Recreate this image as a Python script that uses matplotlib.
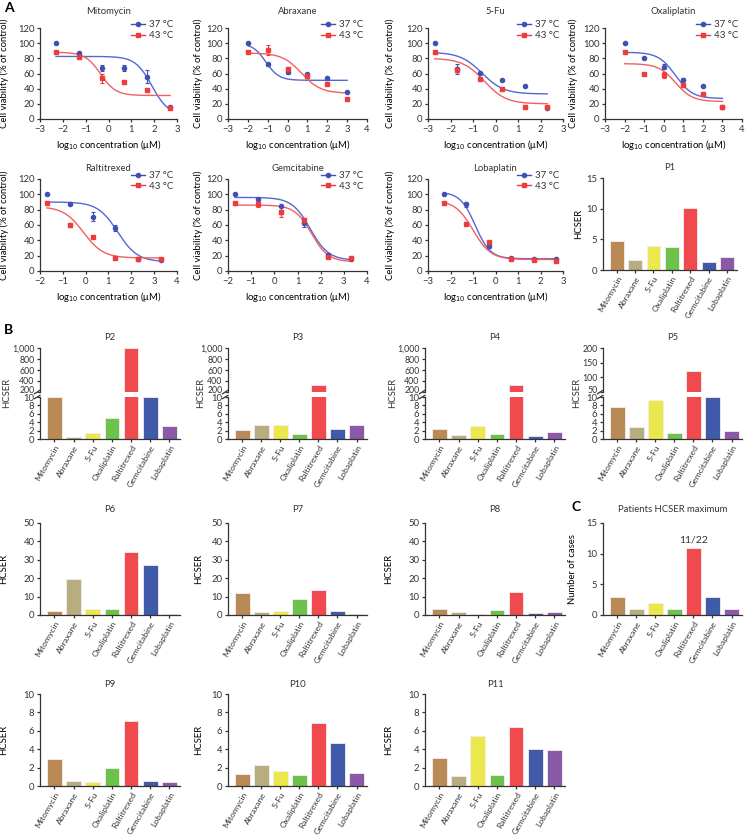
import numpy as np
import matplotlib.pyplot as plt
import matplotlib.transforms as mtransforms
from matplotlib.ticker import FuncFormatter

plt.rcParams['font.family'] = ['Lato', 'DejaVu Sans']
plt.rcParams['font.size'] = 6.5
plt.rcParams['axes.linewidth'] = 0.9
plt.rcParams['axes.edgecolor'] = '#333333'
plt.rcParams['xtick.color'] = '#333333'
plt.rcParams['ytick.color'] = '#333333'
plt.rcParams['text.color'] = '#333333'
plt.rcParams['xtick.major.size'] = 2.5
plt.rcParams['ytick.major.size'] = 2.5
plt.rcParams['xtick.major.pad'] = 1.5
plt.rcParams['ytick.major.pad'] = 1.5

# ---- data ----
drugs = ["Mitomycin", "Abraxane", "5-Fu", "Oxaliplatin", "Raltitrexed", "Gemcitabine", "Lobaplatin"]
drug_colors = ["#b98a55", "#b8ad7e", "#ebe84e", "#6cc24a", "#f04a4e", "#3f5aa8", "#8a5aa8"]

log_dose = {
    "Mitomycin": [-2.3, -1.3, -0.3, 0.7, 1.7, 2.7],
    "Abraxane": [-2, -1, 0, 1, 2, 3],
    "5-Fu": [-2.7, -1.7, -0.7, 0.3, 1.3, 2.3],
    "Oxaliplatin": [-2, -1, 0, 1, 2, 3],
    "Raltitrexed": [-1.7, -0.7, 0.3, 1.3, 2.3, 3.3],
    "Gemcitabine": [-1.7, -0.7, 0.3, 1.3, 2.3, 3.3],
    "Lobaplatin": [-2.3, -1.3, -0.3, 0.7, 1.7, 2.7],
}
via_37 = {
    "Mitomycin": [100, 87, 67, 67, 56, 16],
    "Abraxane": [100, 72, 62, 59, 54, 36],
    "5-Fu": [100, 66, 61, 51, 43, 15],
    "Oxaliplatin": [100, 80, 69, 52, 43, 16],
    "Raltitrexed": [100, 87, 71, 56, 16, 15],
    "Gemcitabine": [100, 94, 85, 62, 21, 16],
    "Lobaplatin": [100, 87, 33, 17, 16, 16],
}
err_37 = {
    "Mitomycin": [0, 1, 4, 4, 9, 1],
    "Abraxane": [0, 2, 3, 1, 2, 1],
    "5-Fu": [0, 7, 1, 1, 1, 1],
    "Oxaliplatin": [0, 1, 3, 2, 1, 1],
    "Raltitrexed": [0, 1, 6, 4, 1, 1],
    "Gemcitabine": [0, 1, 1, 5, 3, 1],
    "Lobaplatin": [1, 3, 3, 1, 1, 1],
}
via_43 = {
    "Mitomycin": [89, 82, 54, 49, 38, 15],
    "Abraxane": [89, 91, 66, 57, 46, 26],
    "5-Fu": [89, 65, 53, 40, 16, 16],
    "Oxaliplatin": [89, 60, 58, 45, 33, 16],
    "Raltitrexed": [89, 60, 45, 17, 16, 16],
    "Gemcitabine": [89, 87, 77, 66, 18, 17],
    "Lobaplatin": [89, 61, 38, 16, 15, 13],
}
err_43 = {
    "Mitomycin": [1, 1, 6, 3, 1, 1],
    "Abraxane": [1, 6, 3, 1, 1, 1],
    "5-Fu": [1, 3, 1, 1, 1, 1],
    "Oxaliplatin": [1, 1, 4, 1, 1, 1],
    "Raltitrexed": [1, 2, 1, 1, 1, 1],
    "Gemcitabine": [1, 4, 6, 3, 1, 1],
    "Lobaplatin": [1, 1, 1, 1, 1, 1],
}
# fitted 4-parameter logistic: top, bottom, logIC50, hill slope
fit_37 = {
    "Mitomycin": (82.5, 5, 1.9, 1.2),
    "Abraxane": (100, 51, -1.1, 1.3),
    "5-Fu": (88, 33, -0.6, 0.9),
    "Oxaliplatin": (88, 27, 0.6, 1.0),
    "Raltitrexed": (90, 12, 1.4, 1.0),
    "Gemcitabine": (96, 14, 1.55, 1.1),
    "Lobaplatin": (103, 16, -0.9, 1.3),
}
fit_43 = {
    "Mitomycin": (88, 31, -0.35, 1.3),
    "Abraxane": (87, 34, 0.7, 0.9),
    "5-Fu": (80, 20, -0.5, 0.9),
    "Oxaliplatin": (73, 23, 0.6, 1.0),
    "Raltitrexed": (84, 17, -0.1, 1.0),
    "Gemcitabine": (86, 12, 1.6, 1.2),
    "Lobaplatin": (92, 15, -1.0, 1.1),
}
x_limits = {
    "Mitomycin": (-3, 3), "Abraxane": (-3, 4), "5-Fu": (-3, 3), "Oxaliplatin": (-3, 4),
    "Raltitrexed": (-2, 4), "Gemcitabine": (-2, 4), "Lobaplatin": (-3, 3),
}

hcser = {
    "P1": [4.8, 1.7, 3.9, 3.8, 10.1, 1.3, 2.1],
    "P2": [9.9, 0.5, 1.5, 4.9, 1000, 10.1, 3.1],
    "P3": [2.2, 3.3, 3.3, 1.3, 320, 2.5, 3.3],
    "P4": [2.3, 0.9, 3.2, 1.2, 320, 0.6, 1.6],
    "P5": [7.7, 2.8, 9.2, 1.4, 122, 10.1, 1.8],
    "P6": [2.2, 19.5, 3.0, 3.5, 34, 27, 0.5],
    "P7": [12, 1.7, 2.3, 8.6, 13.8, 2.1, 0.8],
    "P8": [3.2, 1.4, 0.8, 2.6, 12.7, 1.3, 1.7],
    "P9": [2.9, 0.55, 0.45, 1.95, 7.05, 0.55, 0.45],
    "P10": [1.35, 2.25, 1.65, 1.15, 6.85, 4.7, 1.45],
    "P11": [3.05, 1.05, 5.45, 1.15, 6.45, 4.0, 3.9],
}
max_cases = [3, 1, 2, 1, 11, 3, 1]

W, H = 747, 836
fig = plt.figure(figsize=(W / 100, H / 100), dpi=100)


def px_axes(x0, x1, y0, y1):
    return fig.add_axes([x0 / W, 1 - y1 / H, (x1 - x0) / W, (y1 - y0) / H])


def style(ax):
    ax.spines['top'].set_visible(False)
    ax.spines['right'].set_visible(False)
    ax.tick_params(labelsize=6.8, width=0.9)


def logistic(x, p):
    top, bottom, ic50, hill = p
    return bottom + (top - bottom) / (1 + 10 ** (hill * (x - ic50)))


def curve_panel(drug, x0, x1, y0, y1, pad, label_x):
    ax = px_axes(x0, x1, y0, y1)
    style(ax)
    xs = log_dose[drug]
    xx = np.linspace(xs[0], xs[-1], 200)
    ax.plot(xx, logistic(xx, fit_37[drug]), color="#5468d4", lw=1.0)
    ax.plot(xx, logistic(xx, fit_43[drug]), color="#f26060", lw=1.0)
    ax.errorbar(xs, via_37[drug], yerr=err_37[drug], fmt='o', ms=3, color="#3f51b5",
                elinewidth=0.8, capsize=1.5, capthick=0.8)
    ax.errorbar(xs, via_43[drug], yerr=err_43[drug], fmt='s', ms=3, color="#ee3b3b",
                elinewidth=0.8, capsize=1.5, capthick=0.8)
    h37, = ax.plot([], [], '-o', color="#3f51b5", ms=3, lw=1.0)
    h43, = ax.plot([], [], '-s', color="#ee3b3b", ms=3, lw=1.0)
    ax.legend([h37, h43], ["37 °C", "43 °C"], loc='upper right', bbox_to_anchor=(1.0, 1.13),
              frameon=False, fontsize=7, handlelength=1.4, handletextpad=0.4,
              labelspacing=0.2, borderaxespad=0)
    ax.set_xlim(*x_limits[drug])
    ax.set_xticks(range(x_limits[drug][0], x_limits[drug][1] + 1))
    ax.set_ylim(0, 120)
    ax.set_yticks(range(0, 121, 20))
    ax.set_title(drug, fontsize=6.8, pad=pad)
    ax.set_xlabel("log$_{10}$ concentration (μM)", fontsize=6.8, labelpad=3)
    ax.set_ylabel("Cell viability (% of control)", fontsize=6.8)
    ax.yaxis.set_label_coords((label_x - x0) / (x1 - x0), 0.5)
    return ax


def bars(ax, values):
    pos = np.arange(len(drugs))
    ax.bar(pos, values, width=0.76, color=drug_colors, edgecolor='#f4eeee', linewidth=0.6)
    ax.set_xlim(-0.75, 6.55)


def drug_ticks(ax):
    ax.set_xticks(np.arange(len(drugs)))
    ax.set_xticklabels(drugs, rotation=60, ha='right', rotation_mode='anchor', fontsize=6.1)
    ax.tick_params(axis='x', pad=1)


def bar_panel(name, values, x0, x1, y0, y1, ymax, step, pad, label_x, ylabel="HCSER"):
    ax = px_axes(x0, x1, y0, y1)
    style(ax)
    bars(ax, values)
    ax.set_ylim(0, ymax)
    ax.set_yticks(np.arange(0, ymax + 0.1, step))
    drug_ticks(ax)
    ax.set_title(name, fontsize=6.8, pad=pad)
    ax.set_ylabel(ylabel, fontsize=6.8)
    ax.yaxis.set_label_coords((label_x - x0) / (x1 - x0), 0.5)
    return ax


def broken_panel(name, values, x0, x1, upper, up_step, label_x):
    top_y, mid1, mid2, bot_y = 348, 392, 397, 439
    ax_u = px_axes(x0, x1, top_y, mid1)
    ax_l = px_axes(x0, x1, mid2, bot_y)
    for ax in (ax_u, ax_l):
        style(ax)
        bars(ax, values)
    ax_u.spines['bottom'].set_visible(False)
    ax_u.set_xticks([])
    ax_u.set_ylim(*upper)
    ax_u.set_yticks(np.arange(upper[0], upper[1] + 1, up_step))
    ax_u.yaxis.set_major_formatter(FuncFormatter(lambda v, p: f"{int(v):,}"))
    ax_u.tick_params(axis='y', labelsize=6.3)
    ax_l.set_ylim(0, 10)
    ax_l.set_yticks(range(0, 11, 2))
    drug_ticks(ax_l)
    # nudge the lowest upper label up a little so it clears the "10"
    fig.canvas.draw()
    lift = mtransforms.ScaledTranslation(0, 2.5 / 100, fig.dpi_scale_trans)
    lab = ax_u.get_yticklabels()[0]
    lab.set_transform(lab.get_transform() + lift)
    ax_u.set_title(name, fontsize=6.8, pad=6)
    # break marks on the left spine
    kw = dict(color='#333333', lw=0.9, clip_on=False)
    ax_u.plot([-0.04, 0.0], [-0.04, 0.04], transform=ax_u.transAxes, **kw)
    ax_l.plot([-0.04, 0.0], [0.96, 1.04], transform=ax_l.transAxes, **kw)
    fig.text(label_x / W, 1 - 393 / H, "HCSER", rotation=90, ha='center', va='center', fontsize=6.8)


# ---- panel A ----
row1 = (28, 119)
row2 = (179, 271)
curve_panel("Mitomycin", 40, 177, *row1, pad=10, label_x=9)
curve_panel("Abraxane", 228, 367, *row1, pad=10, label_x=203)
curve_panel("5-Fu", 428, 563, *row1, pad=10, label_x=395)
curve_panel("Oxaliplatin", 605, 742, *row1, pad=10, label_x=578)
curve_panel("Raltitrexed", 40, 177, *row2, pad=6, label_x=9)
curve_panel("Gemcitabine", 228, 367, *row2, pad=6, label_x=203)
curve_panel("Lobaplatin", 428, 563, *row2, pad=6, label_x=395)
bar_panel("P1", hcser["P1"], 603, 737, 178, 270, 15, 5, pad=6, label_x=583)

# ---- panel B ----
broken_panel("P2", hcser["P2"], 40, 180, (200, 1000), 200, label_x=7)
broken_panel("P3", hcser["P3"], 228, 367, (200, 1000), 200, label_x=201)
broken_panel("P4", hcser["P4"], 425, 565, (200, 1000), 200, label_x=393)
broken_panel("P5", hcser["P5"], 603, 742, (50, 200), 50, label_x=577)

row3 = (523, 615)
bar_panel("P6", hcser["P6"], 40, 180, *row3, 50, 10, pad=8, label_x=8)
bar_panel("P7", hcser["P7"], 228, 367, *row3, 50, 10, pad=8, label_x=203)
bar_panel("P8", hcser["P8"], 425, 565, *row3, 50, 10, pad=8, label_x=393)

row4 = (694, 786)
bar_panel("P9", hcser["P9"], 40, 180, *row4, 10, 2, pad=5, label_x=8)
bar_panel("P10", hcser["P10"], 228, 367, *row4, 10, 2, pad=5, label_x=203)
bar_panel("P11", hcser["P11"], 425, 565, *row4, 10, 2, pad=5, label_x=393)

# ---- panel C ----
axc = bar_panel("Patients HCSER maximum", max_cases, 603, 742, *row3, 15, 5, pad=8,
                label_x=577, ylabel="Number of cases")
axc.annotate("11/22", (4, max_cases[4]), xytext=(0, 2), textcoords='offset points',
             ha='center', va='bottom', fontsize=7.5)

fig.text(4 / W, 1 - 8 / H, "A", fontsize=10, fontweight='bold', va='center', color='black')
fig.text(4 / W, 1 - 330 / H, "B", fontsize=10, fontweight='bold', va='center', color='black')
fig.text(572 / W, 1 - 507 / H, "C", fontsize=10, fontweight='bold', va='center', color='black')

fig.savefig("out.png", dpi=100)
